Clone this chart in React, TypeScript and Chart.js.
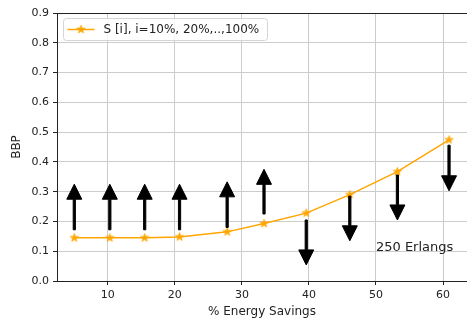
import React, { useEffect, useRef } from 'react';
import { Chart, registerables } from 'chart.js';

Chart.register(...registerables);

// ---- data ----
const energySavings = [5.0, 10.3, 15.5, 20.7, 27.8, 33.3, 39.6, 46.1, 53.2, 60.9];
const bbpValues = [0.145, 0.145, 0.145, 0.148, 0.165, 0.193, 0.228, 0.29, 0.367, 0.474];
const arrowStart = [0.172, 0.172, 0.172, 0.172, 0.18, 0.225, 0.205, 0.285, 0.356, 0.456];
const arrowEnd = [0.325, 0.325, 0.325, 0.325, 0.333, 0.375, 0.054, 0.135, 0.205, 0.303];
const xTicks = [10, 20, 30, 40, 50, 60];
const yTicks = [0, 0.1, 0.2, 0.3, 0.4, 0.5, 0.6, 0.7, 0.8, 0.9];
const xRange = [2.42, 63.58];
const yRange = [0, 0.9];
const seriesLabel = 'S [i], i=10%, 20%,..,100%';
const annotationText = '250 Erlangs';
const annotationPos = [50, 0.1];
const xTitle = '% Energy Savings';
const yTitle = 'BBP';

const FONT = "'DejaVu Sans', sans-serif";
const ORANGE = '#FFA500';

function makeStar(): HTMLCanvasElement {
  const c = document.createElement('canvas');
  c.width = 11;
  c.height = 11;
  const g = c.getContext('2d')!;
  const cx = 5.5, cy = 5.5, R = 4.4, r = R * 0.382;
  g.beginPath();
  for (let i = 0; i < 10; i++) {
    const rad = i % 2 === 0 ? R : r;
    const a = -Math.PI / 2 + (i * Math.PI) / 5;
    const px = cx + rad * Math.cos(a);
    const py = cy + rad * Math.sin(a);
    if (i === 0) g.moveTo(px, py);
    else g.lineTo(px, py);
  }
  g.closePath();
  g.fillStyle = ORANGE;
  g.fill();
  g.strokeStyle = ORANGE;
  g.lineWidth = 0.8;
  g.stroke();
  return c;
}

export default function App() {
  const ref = useRef<HTMLCanvasElement | null>(null);

  useEffect(() => {
    document.body.style.margin = '0';
    const canvas = ref.current!;
    const star = makeStar();

    const arrowsPlugin = {
      id: 'arrows',
      afterDatasetsDraw(chart: any) {
        const { ctx } = chart;
        const xs = chart.scales.x;
        const ys = chart.scales.y;
        const headLen = 15;
        const headW = 15;
        const shaftW = 2.2;
        ctx.save();
        ctx.fillStyle = '#000';
        ctx.strokeStyle = '#000';
        ctx.lineWidth = 1;
        ctx.lineJoin = 'miter';
        for (let i = 0; i < energySavings.length; i++) {
          const x = xs.getPixelForValue(energySavings[i]);
          const y0 = ys.getPixelForValue(arrowStart[i]);
          const y1 = ys.getPixelForValue(arrowEnd[i]);
          const dir = y1 < y0 ? -1 : 1;
          const yb = y1 - dir * headLen;
          ctx.beginPath();
          ctx.moveTo(x - shaftW / 2, y0);
          ctx.lineTo(x - shaftW / 2, yb);
          ctx.lineTo(x - headW / 2, yb);
          ctx.lineTo(x, y1);
          ctx.lineTo(x + headW / 2, yb);
          ctx.lineTo(x + shaftW / 2, yb);
          ctx.lineTo(x + shaftW / 2, y0);
          ctx.closePath();
          ctx.fill();
          ctx.stroke();
        }
        // annotation
        ctx.fillStyle = '#222';
        ctx.font = `13px ${FONT}`;
        ctx.textAlign = 'left';
        ctx.textBaseline = 'alphabetic';
        ctx.fillText(
          annotationText,
          xs.getPixelForValue(annotationPos[0]),
          ys.getPixelForValue(annotationPos[1])
        );
        ctx.restore();
      },
      afterDraw(chart: any) {
        const { ctx, chartArea } = chart;
        ctx.save();
        // top spine
        ctx.strokeStyle = '#222';
        ctx.lineWidth = 1;
        ctx.beginPath();
        ctx.moveTo(chartArea.left, Math.round(chartArea.top) + 0.5);
        ctx.lineTo(chartArea.right, Math.round(chartArea.top) + 0.5);
        ctx.stroke();
        // legend
        const bx = chartArea.left + 6.5;
        const by = chartArea.top + 5.5;
        const bw = 204;
        const bh = 22;
        ctx.beginPath();
        (ctx as any).roundRect(bx, by, bw, bh, 3);
        ctx.fillStyle = 'rgba(255,255,255,0.8)';
        ctx.fill();
        ctx.strokeStyle = '#d5d5d5';
        ctx.lineWidth = 1;
        ctx.stroke();
        const ly = by + 11;
        ctx.strokeStyle = ORANGE;
        ctx.lineWidth = 1.5;
        ctx.beginPath();
        ctx.moveTo(bx + 4, ly);
        ctx.lineTo(bx + 31, ly);
        ctx.stroke();
        ctx.drawImage(star, bx + 17.5 - star.width / 2, ly - star.height / 2);
        ctx.fillStyle = '#222';
        ctx.font = `12px ${FONT}`;
        ctx.textAlign = 'left';
        ctx.textBaseline = 'middle';
        ctx.fillText(seriesLabel, bx + 40, ly + 0.5);
        ctx.restore();
      },
    };

    const chart = new Chart(canvas, {
      type: 'line',
      data: {
        datasets: [
          {
            label: seriesLabel,
            data: energySavings.map((x, i) => ({ x, y: bbpValues[i] })),
            borderColor: ORANGE,
            backgroundColor: ORANGE,
            borderWidth: 1.5,
            pointStyle: star as any,
            pointRadius: 4,
            tension: 0,
          },
        ],
      },
      options: {
        animation: false,
        responsive: false,
        devicePixelRatio: 1,
        layout: { autoPadding: false, padding: { left: 0, top: 13, right: -3, bottom: 0 } },
        plugins: { legend: { display: false }, tooltip: { enabled: false } },
        scales: {
          x: {
            type: 'linear',
            min: xRange[0],
            max: xRange[1],
            afterBuildTicks: (scale: any) => {
              scale.ticks = xTicks.map((v) => ({ value: v }));
            },
            afterFit: (scale: any) => {
              scale.height = 43;
              scale.paddingLeft = 0;
              scale.paddingRight = 0;
            },
            grid: { color: '#cccccc', lineWidth: 1, tickColor: '#222', tickLength: 4, z: -1 },
            border: { color: '#222', width: 1 },
            ticks: {
              color: '#222',
              font: { family: FONT, size: 11 },
              padding: 4,
              maxRotation: 0,
              callback: (v: any) => String(v),
            },
            title: {
              display: true,
              text: xTitle,
              color: '#222',
              font: { family: FONT, size: 12 },
              padding: { top: 4, bottom: 5 },
            },
          },
          y: {
            type: 'linear',
            min: yRange[0],
            max: yRange[1],
            afterBuildTicks: (scale: any) => {
              scale.ticks = yTicks.map((v) => ({ value: v }));
            },
            afterFit: (scale: any) => {
              scale.width = 57;
              scale.paddingTop = 0;
              scale.paddingBottom = 0;
            },
            grid: { color: '#cccccc', lineWidth: 1, tickColor: '#222', tickLength: 4, z: -1 },
            border: { color: '#222', width: 1 },
            ticks: {
              color: '#222',
              font: { family: FONT, size: 11 },
              padding: 4,
              callback: (v: any) => Number(v).toFixed(1),
            },
            title: {
              display: true,
              text: yTitle,
              color: '#222',
              font: { family: FONT, size: 12 },
              padding: { top: 10, bottom: 4 },
            },
          },
        },
      },
      plugins: [arrowsPlugin],
    });

    return () => chart.destroy();
  }, []);

  return (
    <canvas
      ref={ref}
      width={467}
      height={324}
      style={{ display: 'block', width: 467, height: 324 }}
    />
  );
}
